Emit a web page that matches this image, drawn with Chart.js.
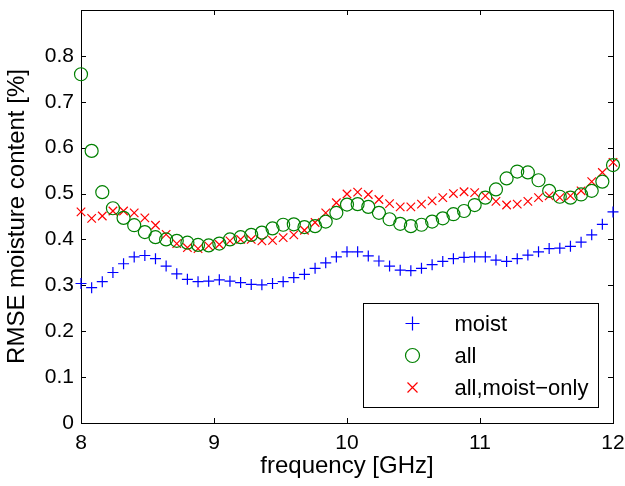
<!DOCTYPE html>
<html>
<head>
<meta charset="utf-8">
<script src="https://cdn.jsdelivr.net/npm/chart.js@4.4.1/dist/chart.umd.min.js"></script>
<style>
  html, body { margin: 0; padding: 0; background: #fff; }
  canvas { display: block; }
</style>
</head>
<body>
<canvas id="rmseChart" width="625" height="486"></canvas>
<script>
// frequency axis [GHz]
const frequency = [
  8.00, 8.08, 8.16, 8.24, 8.32, 8.40, 8.48, 8.56, 8.64, 8.72,
  8.80, 8.88, 8.96, 9.04, 9.12, 9.20, 9.28, 9.36, 9.44, 9.52,
  9.60, 9.68, 9.76, 9.84, 9.92, 10.00, 10.08, 10.16, 10.24, 10.32,
  10.40, 10.48, 10.56, 10.64, 10.72, 10.80, 10.88, 10.96, 11.04, 11.12,
  11.20, 11.28, 11.36, 11.44, 11.52, 11.60, 11.68, 11.76, 11.84, 11.92,
  12.00
];

// RMSE moisture content [%]
const moist = [
  0.304, 0.295, 0.308, 0.328, 0.347, 0.362, 0.365, 0.358, 0.342, 0.325,
  0.313, 0.308, 0.309, 0.312, 0.309, 0.306, 0.302, 0.301, 0.304, 0.308,
  0.317, 0.324, 0.337, 0.349, 0.362, 0.373, 0.373, 0.364, 0.353, 0.342,
  0.333, 0.332, 0.337, 0.345, 0.352, 0.358, 0.361, 0.362, 0.362, 0.355,
  0.352, 0.358, 0.366, 0.373, 0.380, 0.381, 0.385, 0.394, 0.410, 0.433,
  0.460
];

const allSet = [
  0.760, 0.593, 0.503, 0.468, 0.447, 0.431, 0.416, 0.405, 0.400, 0.397,
  0.393, 0.388, 0.387, 0.391, 0.400, 0.405, 0.410, 0.415, 0.424, 0.432,
  0.433, 0.427, 0.429, 0.439, 0.458, 0.476, 0.477, 0.471, 0.458, 0.444,
  0.434, 0.429, 0.432, 0.439, 0.446, 0.455, 0.462, 0.475, 0.491, 0.509,
  0.533, 0.548, 0.546, 0.529, 0.506, 0.493, 0.491, 0.498, 0.506, 0.526,
  0.562
];

const allMoistOnly = [
  0.460, 0.446, 0.451, 0.462, 0.462, 0.458, 0.447, 0.431, 0.411, 0.391,
  0.382, 0.380, 0.386, 0.389, 0.397, 0.400, 0.400, 0.397, 0.398, 0.404,
  0.410, 0.420, 0.437, 0.458, 0.480, 0.499, 0.503, 0.498, 0.487, 0.478,
  0.471, 0.471, 0.477, 0.484, 0.491, 0.500, 0.504, 0.502, 0.495, 0.483,
  0.475, 0.477, 0.483, 0.491, 0.495, 0.491, 0.495, 0.506, 0.526, 0.546,
  0.568
];

const seriesNames = ['moist', 'all', 'all,moist\u2212only'];
const xTicks = [8, 9, 10, 11, 12];
const yTicks = [0, 0.1, 0.2, 0.3, 0.4, 0.5, 0.6, 0.7, 0.8];

const FAMILY = '"Liberation Sans", Arial, Helvetica, sans-serif';
const TICK_FONT = { family: FAMILY, size: 21 };
const TITLE_FONT = { family: FAMILY, size: 24 };
const LEGEND_SIZE = 22;

const toPoints = ys => ys.map((y, i) => ({ x: frequency[i], y: y }));

// box around the axes, with matlab style inward ticks on all four sides
const boxPlugin = {
  id: 'boxPlugin',
  beforeDatasetsDraw(chart) {
    const { ctx, chartArea: a, scales } = chart;
    const len = 5;
    ctx.save();
    ctx.strokeStyle = '#000';
    ctx.lineWidth = 1;
    ctx.beginPath();
    xTicks.forEach(v => {
      const px = Math.round(scales.x.getPixelForValue(v)) + 0.5;
      ctx.moveTo(px, a.bottom); ctx.lineTo(px, a.bottom - len);
      ctx.moveTo(px, a.top); ctx.lineTo(px, a.top + len);
    });
    yTicks.forEach(v => {
      const py = Math.round(scales.y.getPixelForValue(v)) + 0.5;
      ctx.moveTo(a.left, py); ctx.lineTo(a.left + len, py);
      ctx.moveTo(a.right, py); ctx.lineTo(a.right - len, py);
    });
    ctx.stroke();
    ctx.strokeRect(Math.round(a.left) + 0.5, Math.round(a.top) + 0.5,
      Math.round(a.right - a.left), Math.round(a.bottom - a.top));
    ctx.restore();
  }
};

function legendMarker(ctx, style, x, y) {
  ctx.beginPath();
  if (style === 'cross') {
    ctx.moveTo(x - 7, y); ctx.lineTo(x + 7, y);
    ctx.moveTo(x, y - 7); ctx.lineTo(x, y + 7);
  } else if (style === 'circle') {
    ctx.arc(x, y, 7, 0, Math.PI * 2);
  } else {
    ctx.moveTo(x - 5, y - 5); ctx.lineTo(x + 5, y + 5);
    ctx.moveTo(x - 5, y + 5); ctx.lineTo(x + 5, y - 5);
  }
  ctx.stroke();
}

// legend box in the lower right corner of the axes
const legendPlugin = {
  id: 'legendPlugin',
  afterDatasetsDraw(chart) {
    const { ctx, chartArea: a } = chart;
    const w = 235, h = 104, rowH = 32;
    const x0 = Math.round(a.right - 15 - w) + 0.5;
    const y0 = Math.round(a.bottom - 16 - h) + 0.5;
    ctx.save();
    ctx.fillStyle = '#fff';
    ctx.fillRect(x0, y0, w, h);
    ctx.strokeStyle = '#000';
    ctx.lineWidth = 1;
    ctx.strokeRect(x0, y0, w, h);
    chart.data.datasets.forEach((ds, i) => {
      const cy = y0 + 20 + i * rowH;
      ctx.strokeStyle = ds.borderColor;
      ctx.lineWidth = 1.2;
      legendMarker(ctx, ds.pointStyle, x0 + 49, cy);
      ctx.fillStyle = '#000';
      ctx.font = LEGEND_SIZE + 'px ' + FAMILY;
      ctx.textBaseline = 'middle';
      ctx.textAlign = 'left';
      ctx.fillText(ds.label, x0 + 91, cy + 1);
    });
    ctx.restore();
  }
};

const makeSet = (label, data, color, style, radius) => ({
  label: label,
  data: toPoints(data),
  showLine: false,
  pointStyle: style,
  pointRadius: radius,
  pointHoverRadius: radius,
  pointBorderWidth: 1.2,
  borderColor: color,
  backgroundColor: 'rgba(0,0,0,0)',
  clip: false
});

new Chart(document.getElementById('rmseChart').getContext('2d'), {
  type: 'scatter',
  data: {
    datasets: [
      makeSet(seriesNames[0], moist, '#0000ff', 'cross', 5.5),
      makeSet(seriesNames[1], allSet, '#008000', 'circle', 6.5),
      makeSet(seriesNames[2], allMoistOnly, '#ff0000', 'crossRot', 6)
    ]
  },
  options: {
    responsive: false,
    animation: false,
    events: [],
    layout: { padding: { left: 0, top: 10, right: 12, bottom: 0 } },
    plugins: {
      legend: { display: false },
      tooltip: { enabled: false }
    },
    scales: {
      x: {
        type: 'linear',
        min: 8, max: 12,
        afterBuildTicks: s => { s.ticks = xTicks.map(v => ({ value: v })); },
        afterFit: s => {
          s.height = 63;
          s.paddingLeft = 0; s.paddingRight = 0;
        },
        grid: { display: false, drawTicks: false },
        border: { display: false },
        ticks: { color: '#000', font: TICK_FONT, padding: 8, maxRotation: 0, callback: v => String(v) },
        title: { display: true, text: 'frequency [GHz]', color: '#000', font: TITLE_FONT, padding: { top: 0, bottom: 5 } }
      },
      y: {
        type: 'linear',
        min: 0, max: 0.9,
        afterBuildTicks: s => { s.ticks = yTicks.map(v => ({ value: v })); },
        afterFit: s => {
          s.width = 81;
          s.paddingTop = 0; s.paddingBottom = 0;
        },
        grid: { display: false, drawTicks: false },
        border: { display: false },
        ticks: { color: '#000', font: TICK_FONT, padding: 7, callback: v => String(Math.round(v * 10) / 10) },
        title: { display: true, text: 'RMSE moisture content [%]', color: '#000', font: TITLE_FONT, padding: { top: 3, bottom: 0 } }
      }
    }
  },
  plugins: [boxPlugin, legendPlugin]
});
</script>
</body>
</html>
